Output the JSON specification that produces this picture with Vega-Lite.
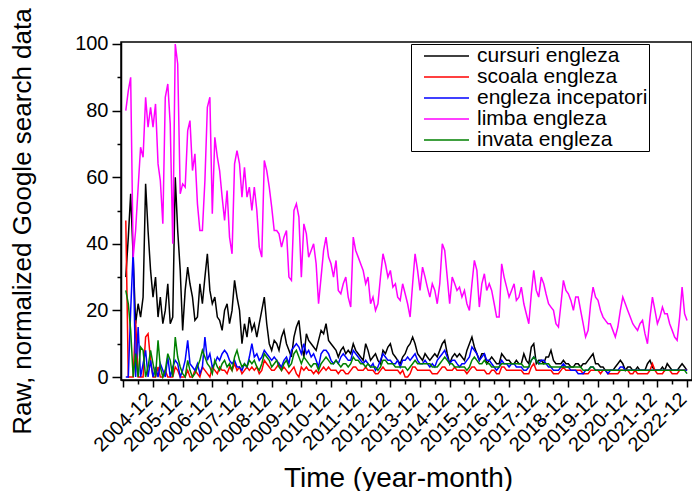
{
"$schema":"https://vega.github.io/schema/vega-lite/v6.json",
"width":571,"height":338,"autosize":"none",
"padding":{"left":121,"top":42,"right":0,"bottom":111},
"background":"white",
"config":{"view":{"stroke":"black","strokeWidth":1.5},"font":"Liberation Sans"},
"data":{"values":[
{"t":"2004-01","cursuri engleza":30,"scoala engleza":47,"engleza incepatori":0,"limba engleza":80,"invata engleza":26},
{"t":"2004-02","cursuri engleza":42,"scoala engleza":0,"engleza incepatori":0,"limba engleza":86,"invata engleza":22},
{"t":"2004-03","cursuri engleza":55,"scoala engleza":0,"engleza incepatori":20,"limba engleza":90,"invata engleza":14},
{"t":"2004-04","cursuri engleza":36,"scoala engleza":0,"engleza incepatori":38,"limba engleza":36,"invata engleza":0},
{"t":"2004-05","cursuri engleza":16,"scoala engleza":17,"engleza incepatori":0,"limba engleza":44,"invata engleza":7},
{"t":"2004-06","cursuri engleza":22,"scoala engleza":0,"engleza incepatori":15,"limba engleza":57,"invata engleza":0},
{"t":"2004-07","cursuri engleza":18,"scoala engleza":0,"engleza incepatori":0,"limba engleza":69,"invata engleza":9},
{"t":"2004-08","cursuri engleza":24,"scoala engleza":0,"engleza incepatori":4,"limba engleza":66,"invata engleza":8},
{"t":"2004-09","cursuri engleza":58,"scoala engleza":12,"engleza incepatori":8,"limba engleza":84,"invata engleza":0},
{"t":"2004-10","cursuri engleza":44,"scoala engleza":13,"engleza incepatori":0,"limba engleza":75,"invata engleza":3},
{"t":"2004-11","cursuri engleza":32,"scoala engleza":5,"engleza incepatori":5,"limba engleza":81,"invata engleza":8},
{"t":"2004-12","cursuri engleza":24,"scoala engleza":0,"engleza incepatori":0,"limba engleza":75,"invata engleza":4},
{"t":"2005-01","cursuri engleza":30,"scoala engleza":0,"engleza incepatori":3,"limba engleza":82,"invata engleza":0},
{"t":"2005-02","cursuri engleza":18,"scoala engleza":3,"engleza incepatori":0,"limba engleza":64,"invata engleza":11},
{"t":"2005-03","cursuri engleza":24,"scoala engleza":0,"engleza incepatori":4,"limba engleza":59,"invata engleza":3},
{"t":"2005-04","cursuri engleza":16,"scoala engleza":0,"engleza incepatori":2,"limba engleza":46,"invata engleza":0},
{"t":"2005-05","cursuri engleza":20,"scoala engleza":2,"engleza incepatori":0,"limba engleza":84,"invata engleza":2},
{"t":"2005-06","cursuri engleza":28,"scoala engleza":0,"engleza incepatori":6,"limba engleza":88,"invata engleza":7},
{"t":"2005-07","cursuri engleza":16,"scoala engleza":0,"engleza incepatori":0,"limba engleza":76,"invata engleza":5},
{"t":"2005-08","cursuri engleza":18,"scoala engleza":0,"engleza incepatori":3,"limba engleza":40,"invata engleza":0},
{"t":"2005-09","cursuri engleza":60,"scoala engleza":3,"engleza incepatori":5,"limba engleza":100,"invata engleza":12},
{"t":"2005-10","cursuri engleza":44,"scoala engleza":2,"engleza incepatori":4,"limba engleza":94,"invata engleza":6},
{"t":"2005-11","cursuri engleza":32,"scoala engleza":0,"engleza incepatori":0,"limba engleza":55,"invata engleza":3},
{"t":"2005-12","cursuri engleza":14,"scoala engleza":0,"engleza incepatori":2,"limba engleza":58,"invata engleza":1},
{"t":"2006-01","cursuri engleza":26,"scoala engleza":0,"engleza incepatori":5,"limba engleza":57,"invata engleza":0},
{"t":"2006-02","cursuri engleza":33,"scoala engleza":2,"engleza incepatori":11,"limba engleza":74,"invata engleza":5},
{"t":"2006-03","cursuri engleza":28,"scoala engleza":0,"engleza incepatori":4,"limba engleza":77,"invata engleza":2},
{"t":"2006-04","cursuri engleza":24,"scoala engleza":0,"engleza incepatori":3,"limba engleza":62,"invata engleza":0},
{"t":"2006-05","cursuri engleza":17,"scoala engleza":2,"engleza incepatori":2,"limba engleza":67,"invata engleza":1},
{"t":"2006-06","cursuri engleza":18,"scoala engleza":1,"engleza incepatori":4,"limba engleza":52,"invata engleza":3},
{"t":"2006-07","cursuri engleza":28,"scoala engleza":0,"engleza incepatori":1,"limba engleza":44,"invata engleza":5},
{"t":"2006-08","cursuri engleza":22,"scoala engleza":3,"engleza incepatori":3,"limba engleza":44,"invata engleza":8},
{"t":"2006-09","cursuri engleza":30,"scoala engleza":2,"engleza incepatori":12,"limba engleza":59,"invata engleza":6},
{"t":"2006-10","cursuri engleza":37,"scoala engleza":1,"engleza incepatori":5,"limba engleza":81,"invata engleza":4},
{"t":"2006-11","cursuri engleza":26,"scoala engleza":0,"engleza incepatori":7,"limba engleza":84,"invata engleza":3},
{"t":"2006-12","cursuri engleza":22,"scoala engleza":3,"engleza incepatori":3,"limba engleza":49,"invata engleza":1},
{"t":"2007-01","cursuri engleza":24,"scoala engleza":2,"engleza incepatori":4,"limba engleza":72,"invata engleza":5},
{"t":"2007-02","cursuri engleza":18,"scoala engleza":1,"engleza incepatori":6,"limba engleza":66,"invata engleza":3},
{"t":"2007-03","cursuri engleza":17,"scoala engleza":3,"engleza incepatori":5,"limba engleza":62,"invata engleza":2},
{"t":"2007-04","cursuri engleza":14,"scoala engleza":2,"engleza incepatori":7,"limba engleza":54,"invata engleza":4},
{"t":"2007-05","cursuri engleza":20,"scoala engleza":2,"engleza incepatori":8,"limba engleza":47,"invata engleza":5},
{"t":"2007-06","cursuri engleza":22,"scoala engleza":1,"engleza incepatori":7,"limba engleza":56,"invata engleza":3},
{"t":"2007-07","cursuri engleza":16,"scoala engleza":3,"engleza incepatori":5,"limba engleza":42,"invata engleza":4},
{"t":"2007-08","cursuri engleza":20,"scoala engleza":2,"engleza incepatori":4,"limba engleza":37,"invata engleza":2},
{"t":"2007-09","cursuri engleza":29,"scoala engleza":4,"engleza incepatori":5,"limba engleza":64,"invata engleza":6},
{"t":"2007-10","cursuri engleza":24,"scoala engleza":2,"engleza incepatori":3,"limba engleza":68,"invata engleza":8},
{"t":"2007-11","cursuri engleza":20,"scoala engleza":3,"engleza incepatori":3,"limba engleza":64,"invata engleza":5},
{"t":"2007-12","cursuri engleza":10,"scoala engleza":1,"engleza incepatori":2,"limba engleza":54,"invata engleza":3},
{"t":"2008-01","cursuri engleza":16,"scoala engleza":2,"engleza incepatori":4,"limba engleza":63,"invata engleza":4},
{"t":"2008-02","cursuri engleza":12,"scoala engleza":3,"engleza incepatori":3,"limba engleza":54,"invata engleza":3},
{"t":"2008-03","cursuri engleza":18,"scoala engleza":2,"engleza incepatori":6,"limba engleza":57,"invata engleza":5},
{"t":"2008-04","cursuri engleza":14,"scoala engleza":3,"engleza incepatori":10,"limba engleza":50,"invata engleza":4},
{"t":"2008-05","cursuri engleza":16,"scoala engleza":2,"engleza incepatori":6,"limba engleza":57,"invata engleza":5},
{"t":"2008-06","cursuri engleza":12,"scoala engleza":3,"engleza incepatori":7,"limba engleza":50,"invata engleza":3},
{"t":"2008-07","cursuri engleza":16,"scoala engleza":1,"engleza incepatori":5,"limba engleza":39,"invata engleza":2},
{"t":"2008-08","cursuri engleza":20,"scoala engleza":2,"engleza incepatori":6,"limba engleza":36,"invata engleza":4},
{"t":"2008-09","cursuri engleza":24,"scoala engleza":5,"engleza incepatori":8,"limba engleza":65,"invata engleza":7},
{"t":"2008-10","cursuri engleza":16,"scoala engleza":4,"engleza incepatori":7,"limba engleza":62,"invata engleza":6},
{"t":"2008-11","cursuri engleza":10,"scoala engleza":3,"engleza incepatori":6,"limba engleza":57,"invata engleza":5},
{"t":"2008-12","cursuri engleza":8,"scoala engleza":2,"engleza incepatori":5,"limba engleza":51,"invata engleza":3},
{"t":"2009-01","cursuri engleza":11,"scoala engleza":2,"engleza incepatori":6,"limba engleza":44,"invata engleza":4},
{"t":"2009-02","cursuri engleza":10,"scoala engleza":3,"engleza incepatori":5,"limba engleza":44,"invata engleza":5},
{"t":"2009-03","cursuri engleza":8,"scoala engleza":4,"engleza incepatori":4,"limba engleza":43,"invata engleza":3},
{"t":"2009-04","cursuri engleza":12,"scoala engleza":2,"engleza incepatori":3,"limba engleza":39,"invata engleza":2},
{"t":"2009-05","cursuri engleza":14,"scoala engleza":3,"engleza incepatori":5,"limba engleza":42,"invata engleza":4},
{"t":"2009-06","cursuri engleza":10,"scoala engleza":2,"engleza incepatori":6,"limba engleza":44,"invata engleza":5},
{"t":"2009-07","cursuri engleza":8,"scoala engleza":1,"engleza incepatori":4,"limba engleza":30,"invata engleza":3},
{"t":"2009-08","cursuri engleza":6,"scoala engleza":2,"engleza incepatori":8,"limba engleza":29,"invata engleza":4},
{"t":"2009-09","cursuri engleza":12,"scoala engleza":3,"engleza incepatori":9,"limba engleza":50,"invata engleza":7},
{"t":"2009-10","cursuri engleza":15,"scoala engleza":1,"engleza incepatori":10,"limba engleza":52,"invata engleza":8},
{"t":"2009-11","cursuri engleza":17,"scoala engleza":0,"engleza incepatori":9,"limba engleza":48,"invata engleza":6},
{"t":"2009-12","cursuri engleza":10,"scoala engleza":3,"engleza incepatori":7,"limba engleza":30,"invata engleza":4},
{"t":"2010-01","cursuri engleza":6,"scoala engleza":2,"engleza incepatori":10,"limba engleza":46,"invata engleza":6},
{"t":"2010-02","cursuri engleza":13,"scoala engleza":3,"engleza incepatori":7,"limba engleza":43,"invata engleza":5},
{"t":"2010-03","cursuri engleza":11,"scoala engleza":2,"engleza incepatori":8,"limba engleza":36,"invata engleza":4},
{"t":"2010-04","cursuri engleza":10,"scoala engleza":2,"engleza incepatori":6,"limba engleza":38,"invata engleza":3},
{"t":"2010-05","cursuri engleza":9,"scoala engleza":1,"engleza incepatori":7,"limba engleza":40,"invata engleza":4},
{"t":"2010-06","cursuri engleza":8,"scoala engleza":2,"engleza incepatori":5,"limba engleza":34,"invata engleza":4},
{"t":"2010-07","cursuri engleza":11,"scoala engleza":1,"engleza incepatori":3,"limba engleza":22,"invata engleza":2},
{"t":"2010-08","cursuri engleza":14,"scoala engleza":2,"engleza incepatori":7,"limba engleza":30,"invata engleza":4},
{"t":"2010-09","cursuri engleza":13,"scoala engleza":3,"engleza incepatori":8,"limba engleza":38,"invata engleza":5},
{"t":"2010-10","cursuri engleza":16,"scoala engleza":2,"engleza incepatori":8,"limba engleza":42,"invata engleza":6},
{"t":"2010-11","cursuri engleza":11,"scoala engleza":3,"engleza incepatori":7,"limba engleza":36,"invata engleza":5},
{"t":"2010-12","cursuri engleza":10,"scoala engleza":2,"engleza incepatori":5,"limba engleza":34,"invata engleza":4},
{"t":"2011-01","cursuri engleza":9,"scoala engleza":2,"engleza incepatori":4,"limba engleza":30,"invata engleza":4},
{"t":"2011-02","cursuri engleza":8,"scoala engleza":2,"engleza incepatori":5,"limba engleza":35,"invata engleza":5},
{"t":"2011-03","cursuri engleza":6,"scoala engleza":1,"engleza incepatori":4,"limba engleza":26,"invata engleza":4},
{"t":"2011-04","cursuri engleza":8,"scoala engleza":2,"engleza incepatori":6,"limba engleza":25,"invata engleza":3},
{"t":"2011-05","cursuri engleza":9,"scoala engleza":2,"engleza incepatori":7,"limba engleza":28,"invata engleza":4},
{"t":"2011-06","cursuri engleza":7,"scoala engleza":1,"engleza incepatori":6,"limba engleza":30,"invata engleza":4},
{"t":"2011-07","cursuri engleza":8,"scoala engleza":1,"engleza incepatori":5,"limba engleza":24,"invata engleza":3},
{"t":"2011-08","cursuri engleza":7,"scoala engleza":2,"engleza incepatori":5,"limba engleza":21,"invata engleza":4},
{"t":"2011-09","cursuri engleza":10,"scoala engleza":3,"engleza incepatori":8,"limba engleza":42,"invata engleza":6},
{"t":"2011-10","cursuri engleza":8,"scoala engleza":3,"engleza incepatori":7,"limba engleza":38,"invata engleza":5},
{"t":"2011-11","cursuri engleza":7,"scoala engleza":2,"engleza incepatori":6,"limba engleza":36,"invata engleza":5},
{"t":"2011-12","cursuri engleza":6,"scoala engleza":2,"engleza incepatori":5,"limba engleza":34,"invata engleza":4},
{"t":"2012-01","cursuri engleza":5,"scoala engleza":2,"engleza incepatori":4,"limba engleza":32,"invata engleza":4},
{"t":"2012-02","cursuri engleza":10,"scoala engleza":3,"engleza incepatori":5,"limba engleza":28,"invata engleza":3},
{"t":"2012-03","cursuri engleza":8,"scoala engleza":2,"engleza incepatori":4,"limba engleza":30,"invata engleza":4},
{"t":"2012-04","cursuri engleza":5,"scoala engleza":2,"engleza incepatori":3,"limba engleza":22,"invata engleza":3},
{"t":"2012-05","cursuri engleza":6,"scoala engleza":2,"engleza incepatori":4,"limba engleza":24,"invata engleza":3},
{"t":"2012-06","cursuri engleza":7,"scoala engleza":1,"engleza incepatori":2,"limba engleza":20,"invata engleza":3},
{"t":"2012-07","cursuri engleza":5,"scoala engleza":1,"engleza incepatori":3,"limba engleza":22,"invata engleza":2},
{"t":"2012-08","cursuri engleza":4,"scoala engleza":2,"engleza incepatori":5,"limba engleza":30,"invata engleza":3},
{"t":"2012-09","cursuri engleza":8,"scoala engleza":3,"engleza incepatori":7,"limba engleza":37,"invata engleza":5},
{"t":"2012-10","cursuri engleza":7,"scoala engleza":2,"engleza incepatori":6,"limba engleza":34,"invata engleza":5},
{"t":"2012-11","cursuri engleza":9,"scoala engleza":2,"engleza incepatori":5,"limba engleza":30,"invata engleza":4},
{"t":"2012-12","cursuri engleza":10,"scoala engleza":2,"engleza incepatori":5,"limba engleza":32,"invata engleza":4},
{"t":"2013-01","cursuri engleza":7,"scoala engleza":2,"engleza incepatori":4,"limba engleza":27,"invata engleza":4},
{"t":"2013-02","cursuri engleza":6,"scoala engleza":2,"engleza incepatori":4,"limba engleza":28,"invata engleza":3},
{"t":"2013-03","cursuri engleza":5,"scoala engleza":2,"engleza incepatori":5,"limba engleza":24,"invata engleza":3},
{"t":"2013-04","cursuri engleza":4,"scoala engleza":1,"engleza incepatori":3,"limba engleza":23,"invata engleza":3},
{"t":"2013-05","cursuri engleza":6,"scoala engleza":2,"engleza incepatori":5,"limba engleza":28,"invata engleza":3},
{"t":"2013-06","cursuri engleza":7,"scoala engleza":0,"engleza incepatori":5,"limba engleza":25,"invata engleza":3},
{"t":"2013-07","cursuri engleza":9,"scoala engleza":0,"engleza incepatori":6,"limba engleza":22,"invata engleza":2},
{"t":"2013-08","cursuri engleza":10,"scoala engleza":1,"engleza incepatori":5,"limba engleza":18,"invata engleza":3},
{"t":"2013-09","cursuri engleza":12,"scoala engleza":3,"engleza incepatori":6,"limba engleza":28,"invata engleza":4},
{"t":"2013-10","cursuri engleza":10,"scoala engleza":3,"engleza incepatori":7,"limba engleza":37,"invata engleza":5},
{"t":"2013-11","cursuri engleza":7,"scoala engleza":2,"engleza incepatori":5,"limba engleza":32,"invata engleza":4},
{"t":"2013-12","cursuri engleza":6,"scoala engleza":2,"engleza incepatori":4,"limba engleza":26,"invata engleza":4},
{"t":"2014-01","cursuri engleza":5,"scoala engleza":2,"engleza incepatori":4,"limba engleza":33,"invata engleza":4},
{"t":"2014-02","cursuri engleza":7,"scoala engleza":2,"engleza incepatori":5,"limba engleza":30,"invata engleza":4},
{"t":"2014-03","cursuri engleza":6,"scoala engleza":2,"engleza incepatori":4,"limba engleza":27,"invata engleza":4},
{"t":"2014-04","cursuri engleza":5,"scoala engleza":2,"engleza incepatori":3,"limba engleza":24,"invata engleza":4},
{"t":"2014-05","cursuri engleza":6,"scoala engleza":1,"engleza incepatori":4,"limba engleza":28,"invata engleza":3},
{"t":"2014-06","cursuri engleza":7,"scoala engleza":1,"engleza incepatori":3,"limba engleza":26,"invata engleza":3},
{"t":"2014-07","cursuri engleza":6,"scoala engleza":1,"engleza incepatori":5,"limba engleza":22,"invata engleza":3},
{"t":"2014-08","cursuri engleza":8,"scoala engleza":2,"engleza incepatori":6,"limba engleza":28,"invata engleza":4},
{"t":"2014-09","cursuri engleza":10,"scoala engleza":3,"engleza incepatori":7,"limba engleza":40,"invata engleza":5},
{"t":"2014-10","cursuri engleza":11,"scoala engleza":3,"engleza incepatori":8,"limba engleza":38,"invata engleza":6},
{"t":"2014-11","cursuri engleza":7,"scoala engleza":2,"engleza incepatori":6,"limba engleza":30,"invata engleza":5},
{"t":"2014-12","cursuri engleza":4,"scoala engleza":2,"engleza incepatori":4,"limba engleza":22,"invata engleza":4},
{"t":"2015-01","cursuri engleza":6,"scoala engleza":2,"engleza incepatori":5,"limba engleza":30,"invata engleza":4},
{"t":"2015-02","cursuri engleza":7,"scoala engleza":3,"engleza incepatori":5,"limba engleza":28,"invata engleza":3},
{"t":"2015-03","cursuri engleza":6,"scoala engleza":2,"engleza incepatori":4,"limba engleza":26,"invata engleza":3},
{"t":"2015-04","cursuri engleza":7,"scoala engleza":2,"engleza incepatori":3,"limba engleza":27,"invata engleza":3},
{"t":"2015-05","cursuri engleza":6,"scoala engleza":2,"engleza incepatori":4,"limba engleza":24,"invata engleza":3},
{"t":"2015-06","cursuri engleza":5,"scoala engleza":2,"engleza incepatori":4,"limba engleza":26,"invata engleza":3},
{"t":"2015-07","cursuri engleza":8,"scoala engleza":1,"engleza incepatori":5,"limba engleza":22,"invata engleza":2},
{"t":"2015-08","cursuri engleza":10,"scoala engleza":2,"engleza incepatori":6,"limba engleza":20,"invata engleza":3},
{"t":"2015-09","cursuri engleza":12,"scoala engleza":3,"engleza incepatori":9,"limba engleza":28,"invata engleza":5},
{"t":"2015-10","cursuri engleza":9,"scoala engleza":3,"engleza incepatori":8,"limba engleza":35,"invata engleza":6},
{"t":"2015-11","cursuri engleza":7,"scoala engleza":2,"engleza incepatori":7,"limba engleza":32,"invata engleza":5},
{"t":"2015-12","cursuri engleza":5,"scoala engleza":2,"engleza incepatori":5,"limba engleza":21,"invata engleza":4},
{"t":"2016-01","cursuri engleza":7,"scoala engleza":2,"engleza incepatori":6,"limba engleza":28,"invata engleza":4},
{"t":"2016-02","cursuri engleza":7,"scoala engleza":2,"engleza incepatori":7,"limba engleza":31,"invata engleza":5},
{"t":"2016-03","cursuri engleza":4,"scoala engleza":1,"engleza incepatori":5,"limba engleza":26,"invata engleza":4},
{"t":"2016-04","cursuri engleza":5,"scoala engleza":1,"engleza incepatori":5,"limba engleza":28,"invata engleza":4},
{"t":"2016-05","cursuri engleza":6,"scoala engleza":2,"engleza incepatori":4,"limba engleza":26,"invata engleza":3},
{"t":"2016-06","cursuri engleza":5,"scoala engleza":2,"engleza incepatori":3,"limba engleza":22,"invata engleza":3},
{"t":"2016-07","cursuri engleza":4,"scoala engleza":1,"engleza incepatori":2,"limba engleza":18,"invata engleza":3},
{"t":"2016-08","cursuri engleza":4,"scoala engleza":1,"engleza incepatori":3,"limba engleza":18,"invata engleza":3},
{"t":"2016-09","cursuri engleza":7,"scoala engleza":3,"engleza incepatori":5,"limba engleza":34,"invata engleza":4},
{"t":"2016-10","cursuri engleza":6,"scoala engleza":3,"engleza incepatori":4,"limba engleza":30,"invata engleza":4},
{"t":"2016-11","cursuri engleza":5,"scoala engleza":2,"engleza incepatori":4,"limba engleza":27,"invata engleza":4},
{"t":"2016-12","cursuri engleza":5,"scoala engleza":2,"engleza incepatori":3,"limba engleza":24,"invata engleza":4},
{"t":"2017-01","cursuri engleza":4,"scoala engleza":2,"engleza incepatori":4,"limba engleza":26,"invata engleza":4},
{"t":"2017-02","cursuri engleza":4,"scoala engleza":2,"engleza incepatori":4,"limba engleza":28,"invata engleza":4},
{"t":"2017-03","cursuri engleza":5,"scoala engleza":2,"engleza incepatori":3,"limba engleza":23,"invata engleza":4},
{"t":"2017-04","cursuri engleza":4,"scoala engleza":2,"engleza incepatori":3,"limba engleza":24,"invata engleza":4},
{"t":"2017-05","cursuri engleza":4,"scoala engleza":2,"engleza incepatori":3,"limba engleza":27,"invata engleza":4},
{"t":"2017-06","cursuri engleza":7,"scoala engleza":1,"engleza incepatori":2,"limba engleza":22,"invata engleza":3},
{"t":"2017-07","cursuri engleza":5,"scoala engleza":1,"engleza incepatori":2,"limba engleza":19,"invata engleza":3},
{"t":"2017-08","cursuri engleza":4,"scoala engleza":1,"engleza incepatori":3,"limba engleza":16,"invata engleza":3},
{"t":"2017-09","cursuri engleza":9,"scoala engleza":3,"engleza incepatori":5,"limba engleza":25,"invata engleza":5},
{"t":"2017-10","cursuri engleza":10,"scoala engleza":4,"engleza incepatori":6,"limba engleza":32,"invata engleza":6},
{"t":"2017-11","cursuri engleza":4,"scoala engleza":2,"engleza incepatori":5,"limba engleza":26,"invata engleza":5},
{"t":"2017-12","cursuri engleza":5,"scoala engleza":2,"engleza incepatori":4,"limba engleza":24,"invata engleza":4},
{"t":"2018-01","cursuri engleza":5,"scoala engleza":2,"engleza incepatori":5,"limba engleza":30,"invata engleza":4},
{"t":"2018-02","cursuri engleza":4,"scoala engleza":2,"engleza incepatori":5,"limba engleza":28,"invata engleza":4},
{"t":"2018-03","cursuri engleza":6,"scoala engleza":2,"engleza incepatori":4,"limba engleza":25,"invata engleza":4},
{"t":"2018-04","cursuri engleza":6,"scoala engleza":2,"engleza incepatori":3,"limba engleza":22,"invata engleza":4},
{"t":"2018-05","cursuri engleza":8,"scoala engleza":2,"engleza incepatori":3,"limba engleza":21,"invata engleza":3},
{"t":"2018-06","cursuri engleza":5,"scoala engleza":1,"engleza incepatori":2,"limba engleza":20,"invata engleza":3},
{"t":"2018-07","cursuri engleza":4,"scoala engleza":1,"engleza incepatori":2,"limba engleza":16,"invata engleza":3},
{"t":"2018-08","cursuri engleza":4,"scoala engleza":1,"engleza incepatori":2,"limba engleza":15,"invata engleza":3},
{"t":"2018-09","cursuri engleza":4,"scoala engleza":2,"engleza incepatori":3,"limba engleza":22,"invata engleza":3},
{"t":"2018-10","cursuri engleza":5,"scoala engleza":3,"engleza incepatori":4,"limba engleza":29,"invata engleza":3},
{"t":"2018-11","cursuri engleza":4,"scoala engleza":2,"engleza incepatori":3,"limba engleza":26,"invata engleza":3},
{"t":"2018-12","cursuri engleza":4,"scoala engleza":2,"engleza incepatori":3,"limba engleza":25,"invata engleza":3},
{"t":"2019-01","cursuri engleza":3,"scoala engleza":2,"engleza incepatori":2,"limba engleza":23,"invata engleza":3},
{"t":"2019-02","cursuri engleza":3,"scoala engleza":2,"engleza incepatori":2,"limba engleza":20,"invata engleza":3},
{"t":"2019-03","cursuri engleza":4,"scoala engleza":2,"engleza incepatori":2,"limba engleza":24,"invata engleza":3},
{"t":"2019-04","cursuri engleza":4,"scoala engleza":2,"engleza incepatori":1,"limba engleza":24,"invata engleza":3},
{"t":"2019-05","cursuri engleza":3,"scoala engleza":2,"engleza incepatori":1,"limba engleza":20,"invata engleza":3},
{"t":"2019-06","cursuri engleza":4,"scoala engleza":1,"engleza incepatori":1,"limba engleza":16,"invata engleza":2},
{"t":"2019-07","cursuri engleza":4,"scoala engleza":1,"engleza incepatori":2,"limba engleza":12,"invata engleza":2},
{"t":"2019-08","cursuri engleza":5,"scoala engleza":1,"engleza incepatori":2,"limba engleza":14,"invata engleza":2},
{"t":"2019-09","cursuri engleza":6,"scoala engleza":2,"engleza incepatori":3,"limba engleza":22,"invata engleza":3},
{"t":"2019-10","cursuri engleza":7,"scoala engleza":2,"engleza incepatori":3,"limba engleza":27,"invata engleza":3},
{"t":"2019-11","cursuri engleza":4,"scoala engleza":2,"engleza incepatori":2,"limba engleza":24,"invata engleza":2},
{"t":"2019-12","cursuri engleza":4,"scoala engleza":2,"engleza incepatori":2,"limba engleza":23,"invata engleza":2},
{"t":"2020-01","cursuri engleza":3,"scoala engleza":1,"engleza incepatori":2,"limba engleza":20,"invata engleza":2},
{"t":"2020-02","cursuri engleza":3,"scoala engleza":2,"engleza incepatori":2,"limba engleza":18,"invata engleza":2},
{"t":"2020-03","cursuri engleza":2,"scoala engleza":2,"engleza incepatori":2,"limba engleza":17,"invata engleza":2},
{"t":"2020-04","cursuri engleza":2,"scoala engleza":1,"engleza incepatori":1,"limba engleza":16,"invata engleza":2},
{"t":"2020-05","cursuri engleza":2,"scoala engleza":1,"engleza incepatori":2,"limba engleza":16,"invata engleza":2},
{"t":"2020-06","cursuri engleza":2,"scoala engleza":1,"engleza incepatori":2,"limba engleza":14,"invata engleza":2},
{"t":"2020-07","cursuri engleza":3,"scoala engleza":1,"engleza incepatori":2,"limba engleza":12,"invata engleza":2},
{"t":"2020-08","cursuri engleza":4,"scoala engleza":1,"engleza incepatori":2,"limba engleza":15,"invata engleza":2},
{"t":"2020-09","cursuri engleza":5,"scoala engleza":2,"engleza incepatori":3,"limba engleza":20,"invata engleza":2},
{"t":"2020-10","cursuri engleza":4,"scoala engleza":2,"engleza incepatori":3,"limba engleza":24,"invata engleza":2},
{"t":"2020-11","cursuri engleza":2,"scoala engleza":2,"engleza incepatori":2,"limba engleza":22,"invata engleza":2},
{"t":"2020-12","cursuri engleza":3,"scoala engleza":2,"engleza incepatori":2,"limba engleza":20,"invata engleza":2},
{"t":"2021-01","cursuri engleza":3,"scoala engleza":1,"engleza incepatori":2,"limba engleza":18,"invata engleza":2},
{"t":"2021-02","cursuri engleza":2,"scoala engleza":1,"engleza incepatori":2,"limba engleza":16,"invata engleza":2},
{"t":"2021-03","cursuri engleza":2,"scoala engleza":2,"engleza incepatori":2,"limba engleza":15,"invata engleza":2},
{"t":"2021-04","cursuri engleza":3,"scoala engleza":1,"engleza incepatori":2,"limba engleza":14,"invata engleza":2},
{"t":"2021-05","cursuri engleza":2,"scoala engleza":1,"engleza incepatori":2,"limba engleza":16,"invata engleza":2},
{"t":"2021-06","cursuri engleza":2,"scoala engleza":1,"engleza incepatori":2,"limba engleza":17,"invata engleza":2},
{"t":"2021-07","cursuri engleza":2,"scoala engleza":1,"engleza incepatori":2,"limba engleza":13,"invata engleza":2},
{"t":"2021-08","cursuri engleza":4,"scoala engleza":1,"engleza incepatori":2,"limba engleza":10,"invata engleza":2},
{"t":"2021-09","cursuri engleza":5,"scoala engleza":2,"engleza incepatori":2,"limba engleza":18,"invata engleza":2},
{"t":"2021-10","cursuri engleza":3,"scoala engleza":4,"engleza incepatori":2,"limba engleza":24,"invata engleza":2},
{"t":"2021-11","cursuri engleza":2,"scoala engleza":2,"engleza incepatori":2,"limba engleza":20,"invata engleza":2},
{"t":"2021-12","cursuri engleza":2,"scoala engleza":1,"engleza incepatori":2,"limba engleza":16,"invata engleza":2},
{"t":"2022-01","cursuri engleza":2,"scoala engleza":1,"engleza incepatori":2,"limba engleza":18,"invata engleza":2},
{"t":"2022-02","cursuri engleza":3,"scoala engleza":1,"engleza incepatori":2,"limba engleza":21,"invata engleza":2},
{"t":"2022-03","cursuri engleza":2,"scoala engleza":2,"engleza incepatori":2,"limba engleza":19,"invata engleza":2},
{"t":"2022-04","cursuri engleza":4,"scoala engleza":2,"engleza incepatori":2,"limba engleza":19,"invata engleza":2},
{"t":"2022-05","cursuri engleza":3,"scoala engleza":2,"engleza incepatori":2,"limba engleza":16,"invata engleza":2},
{"t":"2022-06","cursuri engleza":2,"scoala engleza":1,"engleza incepatori":2,"limba engleza":14,"invata engleza":2},
{"t":"2022-07","cursuri engleza":2,"scoala engleza":1,"engleza incepatori":2,"limba engleza":12,"invata engleza":2},
{"t":"2022-08","cursuri engleza":2,"scoala engleza":1,"engleza incepatori":2,"limba engleza":11,"invata engleza":2},
{"t":"2022-09","cursuri engleza":3,"scoala engleza":2,"engleza incepatori":2,"limba engleza":18,"invata engleza":2},
{"t":"2022-10","cursuri engleza":4,"scoala engleza":2,"engleza incepatori":2,"limba engleza":27,"invata engleza":2},
{"t":"2022-11","cursuri engleza":3,"scoala engleza":2,"engleza incepatori":2,"limba engleza":19,"invata engleza":2},
{"t":"2022-12","cursuri engleza":2,"scoala engleza":2,"engleza incepatori":2,"limba engleza":17,"invata engleza":1}
]},
"transform":[{"fold":["cursuri engleza","scoala engleza","engleza incepatori","limba engleza","invata engleza"],"as":["series","value"]}],
"layer":[
{"mark":{"type":"line","strokeWidth":1.5,"clip":true},
 "encoding":{
  "x":{"field":"t","type":"temporal",
   "scale":{"type":"utc","domain":[{"year":2003,"month":11,"date":3,"utc":true},{"year":2023,"month":1,"date":31,"utc":true}]},
   "axis":{"orient":"bottom","title":"Time (year-month)","format":"%Y-%m","labelExpr":"utcyear(datum.value) < 2004 ? '' : datum.label",
    "values":[{"year":2003,"month":12,"date":1,"utc":true},{"year":2004,"month":12,"date":1,"utc":true},{"year":2005,"month":12,"date":1,"utc":true},{"year":2006,"month":12,"date":1,"utc":true},{"year":2007,"month":12,"date":1,"utc":true},{"year":2008,"month":12,"date":1,"utc":true},{"year":2009,"month":12,"date":1,"utc":true},{"year":2010,"month":12,"date":1,"utc":true},{"year":2011,"month":12,"date":1,"utc":true},{"year":2012,"month":12,"date":1,"utc":true},{"year":2013,"month":12,"date":1,"utc":true},{"year":2014,"month":12,"date":1,"utc":true},{"year":2015,"month":12,"date":1,"utc":true},{"year":2016,"month":12,"date":1,"utc":true},{"year":2017,"month":12,"date":1,"utc":true},{"year":2018,"month":12,"date":1,"utc":true},{"year":2019,"month":12,"date":1,"utc":true},{"year":2020,"month":12,"date":1,"utc":true},{"year":2021,"month":12,"date":1,"utc":true},{"year":2022,"month":12,"date":1,"utc":true}],
    "labelAngle":-45,"labelAlign":"right","labelBaseline":"middle","labelFontSize":20,"labelColor":"black","labelPadding":9,"labelOffset":-4,"labelOverlap":false,"labelFlush":false,"labelBound":false,
    "tickColor":"black","tickSize":7,"tickWidth":1.5,"domainColor":"black","domainWidth":1.5,"grid":false,
    "titleFontSize":28,"titleFontWeight":"normal","titleColor":"black","titleX":277,"titleY":106,"titleBaseline":"alphabetic","titleAlign":"center"}},
  "y":{"field":"value","type":"quantitative","scale":{"domain":[-0.9,100.6],"nice":false,"zero":false},
   "axis":{"orient":"left","title":"Raw, normalized Google search data","values":[0,20,40,60,80,100],
    "labelFontSize":20,"labelColor":"black","labelPadding":4,"tickColor":"black","tickSize":9,"tickWidth":1.5,"domainColor":"black","domainWidth":1.5,"grid":false,
    "titleFontSize":26,"titleFontWeight":"normal","titleColor":"black","titleAngle":270,"titleX":-99,"titleY":179,"titleBaseline":"middle","titleAlign":"center"}},
  "color":{"field":"series","type":"nominal",
   "scale":{"domain":["cursuri engleza","scoala engleza","engleza incepatori","limba engleza","invata engleza"],"range":["#000000","#ff0000","#0000ff","#ff00ff","#008000"]},
   "legend":{"orient":"none","legendX":290,"legendY":2,"title":null,"strokeColor":"black","fillColor":"white","padding":1,"symbolOffset":23.5,
    "symbolType":"M-2.25,0H2.25","symbolSize":400,"symbolStrokeWidth":1.5,"labelFontSize":21,"labelColor":"black","labelOffset":19.5,"labelLimit":0,"rowPadding":0}}
 }},
{"mark":{"type":"line","opacity":0},
 "encoding":{
  "x":{"field":"t","type":"temporal",
   "axis":{"orient":"bottom","title":null,"labels":false,"domain":false,"grid":false,"tickColor":"black","tickSize":4,"tickWidth":1.5,
    "values":[{"year":2004,"month":6,"date":1,"utc":true},{"year":2005,"month":6,"date":1,"utc":true},{"year":2006,"month":6,"date":1,"utc":true},{"year":2007,"month":6,"date":1,"utc":true},{"year":2008,"month":6,"date":1,"utc":true},{"year":2009,"month":6,"date":1,"utc":true},{"year":2010,"month":6,"date":1,"utc":true},{"year":2011,"month":6,"date":1,"utc":true},{"year":2012,"month":6,"date":1,"utc":true},{"year":2013,"month":6,"date":1,"utc":true},{"year":2014,"month":6,"date":1,"utc":true},{"year":2015,"month":6,"date":1,"utc":true},{"year":2016,"month":6,"date":1,"utc":true},{"year":2017,"month":6,"date":1,"utc":true},{"year":2018,"month":6,"date":1,"utc":true},{"year":2019,"month":6,"date":1,"utc":true},{"year":2020,"month":6,"date":1,"utc":true},{"year":2021,"month":6,"date":1,"utc":true},{"year":2022,"month":6,"date":1,"utc":true}]}},
  "y":{"field":"value","type":"quantitative",
   "axis":{"orient":"left","title":null,"labels":false,"domain":false,"grid":false,"tickColor":"black","tickSize":4,"tickWidth":1.5,"values":[10,30,50,70,90]}},
  "detail":{"field":"series"}
 }}
],
"resolve":{"axis":{"x":"independent","y":"independent"}}
}
